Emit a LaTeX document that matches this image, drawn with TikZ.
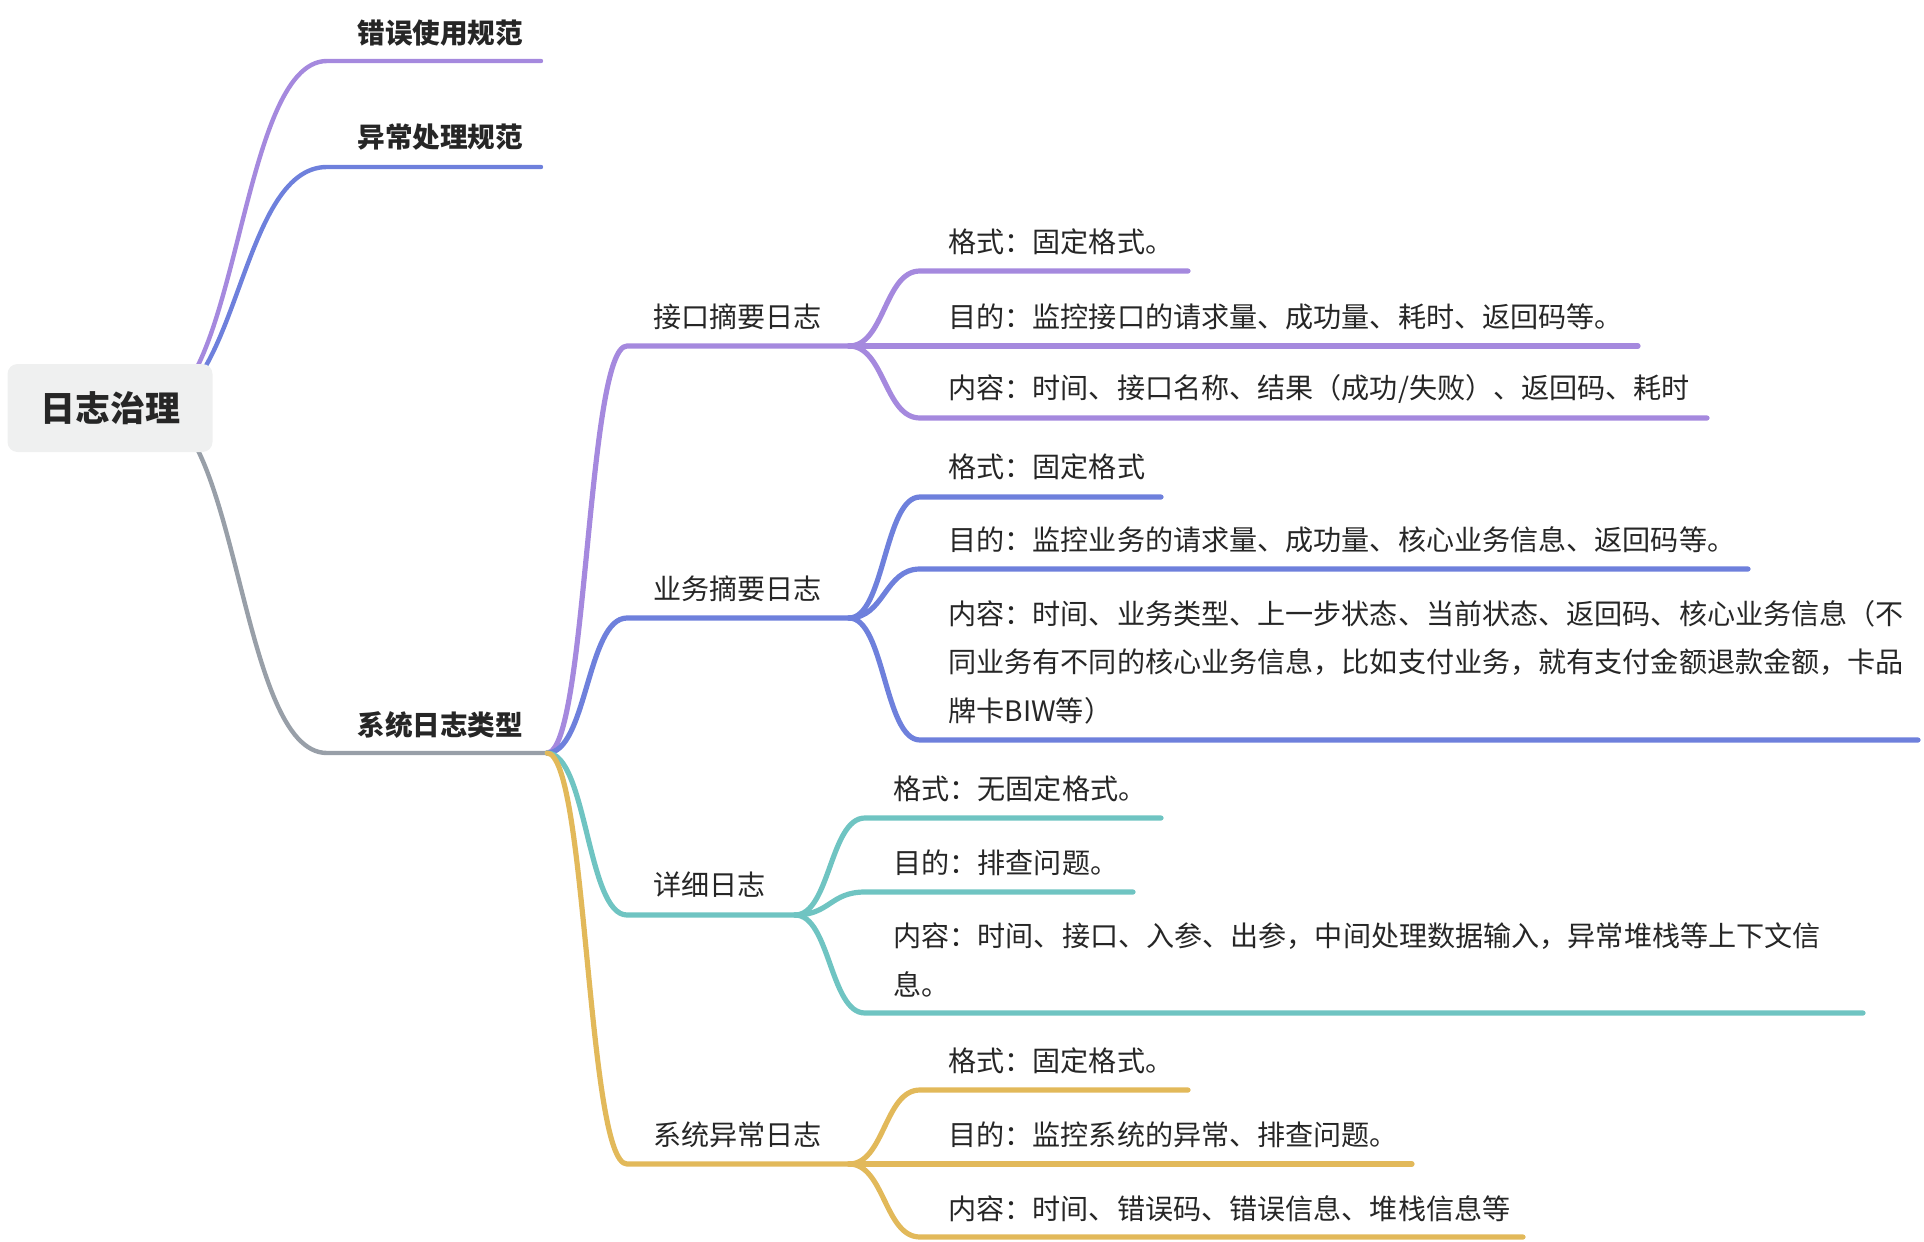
\documentclass[tikz,border=0pt]{standalone}
\usepackage{fontspec}
\usetikzlibrary{calc}
\newfontfamily\cjk{Noto Sans CJK SC}
\definecolor{cpurple}{RGB}{165,137,222}
\definecolor{cblue}{RGB}{110,128,220}
\definecolor{cteal}{RGB}{111,196,194}
\definecolor{cgold}{RGB}{226,185,90}
\definecolor{cgrey}{RGB}{152,159,168}
\definecolor{rootfill}{RGB}{239,240,240}
\definecolor{txtcol}{RGB}{38,38,38}
\newcommand{\branch}[4]{%
  \draw[#1] let \p1=(#2), \p2=(#3) in
    (\p1) .. controls ({0.5*\x1+0.5*\x2},\y1) and ({0.5*\x1+0.5*\x2},\y2) .. (\p2) -- (#4);}
\begin{document}
\begin{tikzpicture}[x=0.5pt,y=-0.5pt,
  wire/.style={line width=2.6pt,line cap=round,line join=round},
  rootwire/.style={line width=2.2pt,line cap=round,line join=round},
  txt/.style={anchor=west,inner sep=0pt,text=txtcol,font=\cjk\fontsize{14.05}{24.2}\selectfont,align=left},
  btxt/.style={txt,font=\cjk\bfseries\fontsize{13.8}{24.2}\selectfont},
  rootbox/.style={fill=rootfill,rounded corners=5pt,minimum width=102.5pt,minimum height=44pt,inner sep=0pt,text=txtcol,font=\cjk\bfseries\fontsize{17.5}{20}\selectfont}]
\useasboundingbox (0,0) rectangle (1924,1242);
% ---- coordinates
\coordinate (rootout) at (151,408);
\coordinate (s1) at (327,61);   \coordinate (e1) at (541,61);
\coordinate (s2) at (327,167);  \coordinate (e2) at (541,167);
\coordinate (s3) at (327,753);  \coordinate (e3) at (547,753);
% level 2
\coordinate (a0) at (627,346);  \coordinate (a1) at (849,346);
\coordinate (b0) at (627,618);  \coordinate (b1) at (849,618);
\coordinate (c0) at (627,915);  \coordinate (c1) at (795,915);
\coordinate (d0) at (627,1164); \coordinate (d1) at (849,1164);
% level 3 - A
\coordinate (a1s) at (920,271);  \coordinate (a1e) at (1188,271);
\coordinate (a2e) at (1638,346);
\coordinate (a3s) at (920,418);  \coordinate (a3e) at (1707,418);
% level 3 - B
\coordinate (b1s) at (920,497);  \coordinate (b1e) at (1161,497);
\coordinate (b2s) at (920,569);  \coordinate (b2e) at (1748,569);
\coordinate (b3s) at (920,740);  \coordinate (b3e) at (1918,740);
% level 3 - C
\coordinate (c1s) at (865,818);  \coordinate (c1e) at (1161,818);
\coordinate (c2s) at (865,892);  \coordinate (c2e) at (1133,892);
\coordinate (c3s) at (865,1013); \coordinate (c3e) at (1863,1013);
% level 3 - D
\coordinate (d1s) at (920,1090); \coordinate (d1e) at (1188,1090);
\coordinate (d2e) at (1412,1164);
\coordinate (d3s) at (920,1237); \coordinate (d3e) at (1523,1237);
% ---- connectors
\branch{rootwire,cpurple}{rootout}{s1}{e1}
\branch{rootwire,cblue}{rootout}{s2}{e2}
\branch{rootwire,cgrey}{rootout}{s3}{e3}
\branch{wire,cpurple}{e3}{a0}{a1}
\branch{wire,cblue}{e3}{b0}{b1}
\branch{wire,cteal}{e3}{c0}{c1}
\branch{wire,cgold}{e3}{d0}{d1}
\branch{wire,cpurple}{a1}{a1s}{a1e}
\draw[wire,cpurple] (a1) -- (a2e);
\branch{wire,cpurple}{a1}{a3s}{a3e}
\branch{wire,cblue}{b1}{b1s}{b1e}
\branch{wire,cblue}{b1}{b2s}{b2e}
\branch{wire,cblue}{b1}{b3s}{b3e}
\branch{wire,cteal}{c1}{c1s}{c1e}
\branch{wire,cteal}{c1}{c2s}{c2e}
\branch{wire,cteal}{c1}{c3s}{c3e}
\branch{wire,cgold}{d1}{d1s}{d1e}
\draw[wire,cgold] (d1) -- (d2e);
\branch{wire,cgold}{d1}{d3s}{d3e}
% ---- root
\node[rootbox] (root) at (110,408) {日志治理};
% ---- level 1
\node[btxt] (l1a) at (357,33) {错误使用规范};
\node[btxt] (l1b) at (357,137) {异常处理规范};
\node[btxt] (l1c) at (357,725) {系统日志类型};
% ---- level 2
\node[txt] (l2a) at (653,317) {接口摘要日志};
\node[txt] (l2b) at (653,589) {业务摘要日志};
\node[txt] (l2c) at (653,885) {详细日志};
\node[txt] (l2d) at (653,1135) {系统异常日志};
% ---- level 3
\node[txt] (ta1) at (948,242) {格式：固定格式。};
\node[txt] (ta2) at (948,317) {目的：监控接口的请求量、成功量、耗时、返回码等。};
\node[txt] (ta3) at (948,389) {内容：时间、接口名称、结果（成功/失败）、返回码、耗时};
\node[txt] (tb1) at (948,467) {格式：固定格式};
\node[txt] (tb2) at (948,540) {目的：监控业务的请求量、成功量、核心业务信息、返回码等。};
\node[txt] (tb3) at (948,662) {内容：时间、业务类型、上一步状态、当前状态、返回码、核心业务信息（不\\同业务有不同的核心业务信息，比如支付业务，就有支付金额退款金额，卡品\\牌卡BIW等）};
\node[txt] (tc1) at (893,789) {格式：无固定格式。};
\node[txt] (tc2) at (893,863) {目的：排查问题。};
\node[txt] (tc3) at (893,960) {内容：时间、接口、入参、出参，中间处理数据输入，异常堆栈等上下文信\\息。};
\node[txt] (td1) at (948,1061) {格式：固定格式。};
\node[txt] (td2) at (948,1135) {目的：监控系统的异常、排查问题。};
\node[txt] (td3) at (948,1209) {内容：时间、错误码、错误信息、堆栈信息等};
\end{tikzpicture}
\end{document}
